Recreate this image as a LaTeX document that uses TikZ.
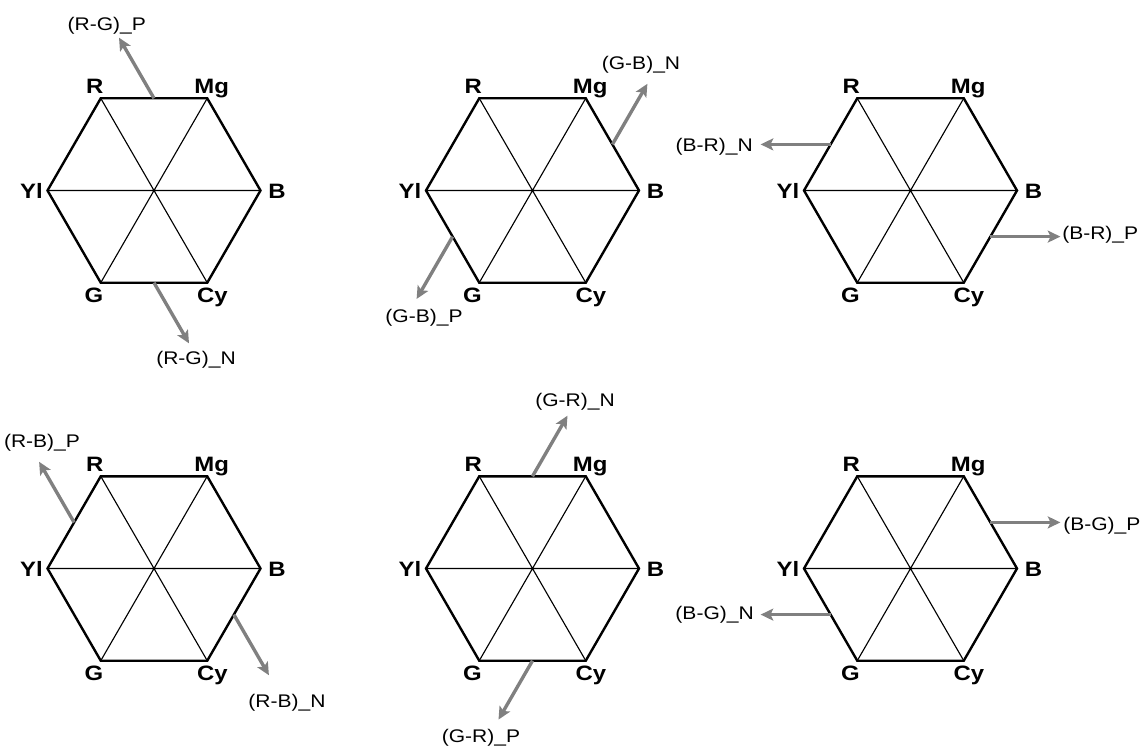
\documentclass[tikz,border=0pt]{standalone}
\usepackage{fontspec}
\setmainfont{Liberation Sans}
\newfontfamily\hexfont[FakeStretch=1.15]{Liberation Sans}
\usetikzlibrary{arrows.meta}
\definecolor{vecgray}{RGB}{128,128,128}

\tikzset{
  colorhex/.pic={
    % corners
    \coordinate (-R)  at (-53.25,92.2);
    \coordinate (-Mg) at (53.25,92.2);
    \coordinate (-B)  at (106.5,0);
    \coordinate (-Cy) at (53.25,-92.2);
    \coordinate (-G)  at (-53.25,-92.2);
    \coordinate (-Yl) at (-106.5,0);
    % edge midpoints
    \coordinate (-top) at (0,92.2);
    \coordinate (-ur)  at (79.9,46.1);
    \coordinate (-lr)  at (79.9,-46.1);
    \coordinate (-bot) at (0,-92.2);
    \coordinate (-ll)  at (-79.9,-46.1);
    \coordinate (-ul)  at (-79.9,46.1);
    \draw[spoke] (-R) -- (-Cy) (-Mg) -- (-G) (-Yl) -- (-B);
    \draw[rim] (-R) -- (-Mg) -- (-B) -- (-Cy) -- (-G) -- (-Yl) -- cycle;
    \node[vx,anchor=base] (-Rl) at (-59.3,96.6) {R};
    \node[vx,anchor=base] (-Mgl) at (57.7,96.6) {Mg};
    \node[vx,anchor=base west] (-Bl) at (114.1,-8) {B};
    \node[vx,anchor=base] (-Cyl) at (58.3,-111.9) {Cy};
    \node[vx,anchor=base] (-Gl) at (-60,-111.9) {G};
    \node[vx,anchor=base east] (-Yll) at (-110.9,-8) {Yl};
  }
}

\begin{document}
\begin{tikzpicture}[x=0.025cm,y=0.025cm,
    rim/.style={line width=1.7pt},
    spoke/.style={line width=0.8pt},
    vx/.style={font=\hexfont\bfseries\fontsize{14.8}{17}\selectfont,inner sep=0pt},
    lab/.style={font=\hexfont\fontsize{13}{15}\selectfont,inner sep=0pt},
    vec/.style={draw=vecgray,line width=2.4pt,-{Stealth[length=9pt,width=8.5pt,inset=2pt]}}
]
\useasboundingbox (0,0) rectangle (1143,-749);

\pic (h1) at (154,-190.5) {colorhex};
\pic (h2) at (532.5,-190.5) {colorhex};
\pic (h3) at (910.5,-190.5) {colorhex};
\pic (h4) at (154,-568.5) {colorhex};
\pic (h5) at (532.5,-568.5) {colorhex};
\pic (h6) at (910.5,-568.5) {colorhex};

% arrow ends
\path (h1-top) ++(120:70) coordinate (rgP);
\path (h1-bot) ++(-60:70) coordinate (rgN);
\path (h2-ur) ++(60:70) coordinate (gbN);
\path (h2-ll) ++(240:72) coordinate (gbP);
\path (h3-ul) ++(180:70) coordinate (brN);
\path (h3-lr) ++(0:70) coordinate (brP);
\path (h4-ul) ++(120:70) coordinate (rbP);
\path (h4-lr) ++(-60:70) coordinate (rbN);
\path (h5-top) ++(60:70) coordinate (grN);
\path (h5-bot) ++(240:68) coordinate (grP);
\path (h6-ur) ++(0:70) coordinate (bgP);
\path (h6-ll) ++(180:70) coordinate (bgN);

\draw[vec] (h1-top) -- (rgP);
\draw[vec] (h1-bot) -- (rgN);
\draw[vec] (h2-ur) -- (gbN);
\draw[vec] (h2-ll) -- (gbP);
\draw[vec] (h3-ul) -- (brN);
\draw[vec] (h3-lr) -- (brP);
\draw[vec] (h4-ul) -- (rbP);
\draw[vec] (h4-lr) -- (rbN);
\draw[vec] (h5-top) -- (grN);
\draw[vec] (h5-bot) -- (grP);
\draw[vec] (h6-ur) -- (bgP);
\draw[vec] (h6-ll) -- (bgN);

\node[lab] (rgPl) at (106.7,-26) {(R-G)\_P};
\node[lab] (rgNl) at (196,-360) {(R-G)\_N};
\node[lab] (gbNl) at (641,-65) {(G-B)\_N};
\node[lab] (gbPl) at (424,-318) {(G-B)\_P};
\node[lab,anchor=east] (brNl) at (753,-147) {(B-R)\_N};
\node[lab,anchor=west] (brPl) at (1062,-235) {(B-R)\_P};
\node[lab] (rbPl) at (42,-443) {(R-B)\_P};
\node[lab] (rbNl) at (287,-703) {(R-B)\_N};
\node[lab] (grNl) at (575,-402) {(G-R)\_N};
\node[lab] (grPl) at (481,-738) {(G-R)\_P};
\node[lab,anchor=west] (bgPl) at (1063,-526) {(B-G)\_P};
\node[lab,anchor=east] (bgNl) at (754,-615) {(B-G)\_N};
\end{tikzpicture}
\end{document}
